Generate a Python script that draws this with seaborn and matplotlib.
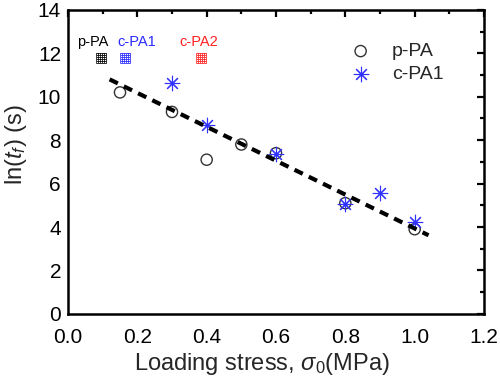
import seaborn as sns
import matplotlib.pyplot as plt
import pandas as pd
from matplotlib.ticker import MultipleLocator

# data
ppa_stress = [0.15, 0.3, 0.4, 0.5, 0.6, 0.8, 1.0]
ppa_lntf = [10.2, 9.3, 7.1, 7.8, 7.4, 5.1, 3.9]
cpa1_stress = [0.3, 0.4, 0.6, 0.8, 0.9, 1.0]
cpa1_lntf = [10.65, 8.7, 7.35, 5.05, 5.57, 4.24]
fit_stress = [0.12, 1.04]
fit_lntf = [10.8, 3.62]
key_labels = ["p-PA", "c-PA1", "c-PA2"]
key_text_x = [0.027, 0.142, 0.322]
key_box_x = [0.095, 0.165, 0.385]
key_colors = ["black", "#2a2aff", "#ff2020"]

sns.set_style("white")
plt.rcParams["font.family"] = ["Liberation Sans", "DejaVu Sans"]
plt.rcParams["mathtext.fontset"] = "custom"
plt.rcParams["mathtext.it"] = "Liberation Sans:italic"
plt.rcParams["mathtext.rm"] = "Liberation Sans"

fig = plt.figure(figsize=(5, 3.8), dpi=100)
ax = fig.add_axes([0.136, 0.174, 0.832, 0.8])

ppa = pd.DataFrame({"stress": ppa_stress, "lntf": ppa_lntf})
cpa1 = pd.DataFrame({"stress": cpa1_stress, "lntf": cpa1_lntf})

sns.lineplot(x=fit_stress, y=fit_lntf, ax=ax, color="black", linewidth=3,
             linestyle=(0, (2.2, 1.6)), legend=False)
sns.scatterplot(data=ppa, x="stress", y="lntf", ax=ax, marker="o", s=65,
                facecolor="none", edgecolor="#333333", linewidth=1.0, label="p-PA")
sns.scatterplot(data=cpa1, x="stress", y="lntf", ax=ax, marker=(8, 2, 0), s=110,
                color="#3030ff", edgecolor="#3030ff", linewidth=0.8, label="c-PA1")

# small key in the upper left
for lab, tx, bx, c in zip(key_labels, key_text_x, key_box_x, key_colors):
    ax.text(tx, 12.5, lab, color=c, fontsize=10.5, ha="left", va="center")
    ax.text(bx, 11.8, "\u25a6", color=c, fontsize=10, ha="center", va="center",
            family="DejaVu Sans")

ax.set_xlim(0, 1.2)
ax.set_ylim(0, 14)
ax.xaxis.set_major_locator(MultipleLocator(0.2))
ax.xaxis.set_minor_locator(MultipleLocator(0.1))
ax.yaxis.set_major_locator(MultipleLocator(2))
ax.yaxis.set_minor_locator(MultipleLocator(1))
ax.xaxis.set_major_formatter(plt.FormatStrFormatter("%.1f"))
ax.tick_params(which="both", direction="in", top=True, right=True, width=1.6,
               labelsize=15, colors="black")
ax.tick_params(axis="x", pad=10)
ax.tick_params(axis="y", pad=5)
ax.tick_params(which="major", length=5)
ax.tick_params(which="minor", length=3)
for s in ax.spines.values():
    s.set_linewidth(1.8)
    s.set_color("black")

ax.set_xlabel(r"Loading stress, $\sigma_0$(MPa)", fontsize=17)
ax.set_ylabel(r"ln($t_f$) (s)", fontsize=17)
ax.xaxis.set_label_coords(0.467, -0.122)
ax.yaxis.set_label_coords(-0.093, 0.556)

ax.legend(loc="upper right", frameon=False, fontsize=14, bbox_to_anchor=(0.921, 0.918),
          borderaxespad=0, handletextpad=0.6, labelspacing=0.25)

plt.savefig("out.png", dpi=100)
plt.close()
